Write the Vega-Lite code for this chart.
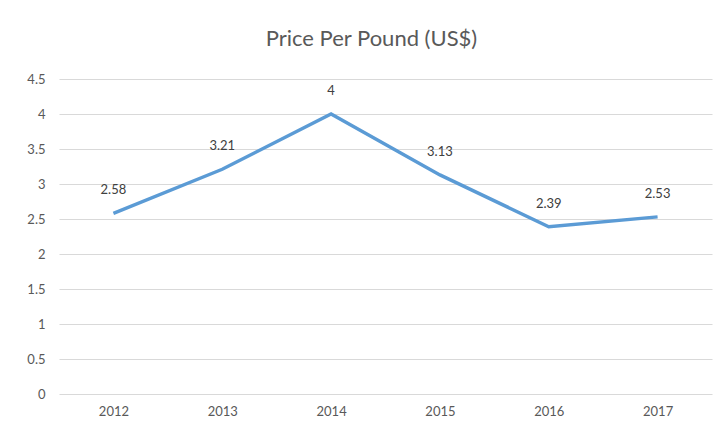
{
  "$schema": "https://vega.github.io/schema/vega-lite/v6.json",
  "width": 653,
  "height": 315,
  "autosize": {"type": "none"},
  "padding": {"left": 59, "top": 79, "right": 12, "bottom": 44},
  "background": "white",
  "title": {
    "text": "Price Per Pound (US$)",
    "font": "Lato",
    "fontSize": 22,
    "fontWeight": "normal",
    "color": "#595959",
    "anchor": "middle",
    "dx": -14,
    "offset": 22
  },
  "data": {
    "values": [
      {"year": "2012", "price": 2.58},
      {"year": "2013", "price": 3.21},
      {"year": "2014", "price": 4},
      {"year": "2015", "price": 3.13},
      {"year": "2016", "price": 2.39},
      {"year": "2017", "price": 2.53}
    ]
  },
  "encoding": {
    "x": {
      "field": "year",
      "type": "ordinal",
      "scale": {"type": "point", "padding": 0.5},
      "axis": {
        "title": null,
        "labelAngle": 0,
        "ticks": false,
        "domain": false,
        "grid": false,
        "labelFont": "Lato",
        "labelFontSize": 13,
        "labelColor": "#595959",
        "labelPadding": 11
      }
    },
    "y": {
      "field": "price",
      "type": "quantitative",
      "scale": {"domain": [0, 4.5], "nice": false},
      "axis": {
        "title": null,
        "values": [0, 0.5, 1, 1.5, 2, 2.5, 3, 3.5, 4, 4.5],
        "format": ".2~f",
        "ticks": false,
        "domain": false,
        "gridColor": "#d9d9d9",
        "gridWidth": 1,
        "labelFont": "Lato",
        "labelFontSize": 13,
        "labelColor": "#595959",
        "labelPadding": 14
      }
    }
  },
  "layer": [
    {
      "mark": {"type": "line", "color": "#5B9BD5", "strokeWidth": 3.4}
    },
    {
      "mark": {
        "type": "text",
        "font": "Lato",
        "fontSize": 13,
        "color": "#404040",
        "baseline": "middle",
        "dy": -23
      },
      "encoding": {"text": {"field": "price", "type": "quantitative"}}
    }
  ],
  "config": {"view": {"stroke": null}}
}
